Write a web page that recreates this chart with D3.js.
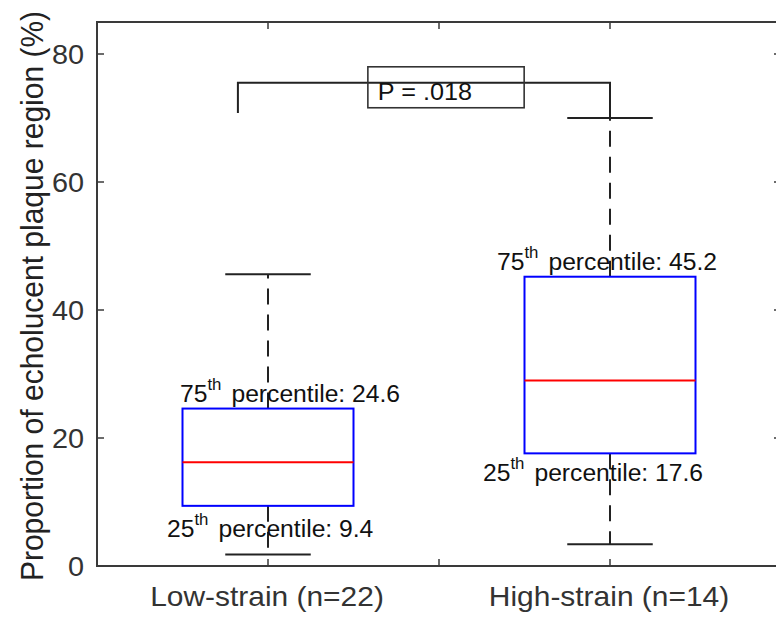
<!DOCTYPE html>
<html>
<head>
<meta charset="utf-8">
<script src="https://cdn.jsdelivr.net/npm/d3@7"></script>
<style>
  body { margin: 0; background: #fff; }
  svg { display: block; font-family: "Liberation Sans", Arial, sans-serif; }
</style>
</head>
<body>
<svg width="776" height="620"></svg>
<script>
    var width = 776, height = 620;

    // box plot values
    var categories = ["Low-strain (n=22)", "High-strain (n=14)"];
    var positions = [1, 2];
    var q1 = [9.4, 17.6];
    var q3 = [24.6, 45.2];
    var medians = [16.2, 29.0];
    var whiskerLow = [1.8, 3.4];
    var whiskerHigh = [45.6, 70.0];

    var yTicks = [0, 20, 40, 60, 80];
    var xTicks = [1, 1.5, 2];
    var pLabel = "P = .018";

    var svg = d3.select("svg");

    var x = d3.scaleLinear().domain([0.5, 2.5]).range([97, 781]);
    var y = d3.scaleLinear().domain([0, 85]).range([566, 22]);

    var stretch = 1.05;  // text in the figure is slightly wide
    var axisColor = "#3a3a3a";

    // frame
    var frame = svg.append("g");
    frame.append("path")
        .attr("d", `M${x(2.5)},${y(85)} H${x(0.5)} V${y(0)} H${x(2.5)}`)
        .attr("fill", "none")
        .attr("stroke", axisColor)
        .attr("stroke-width", 2);

    // y ticks on both sides, pointing in
    yTicks.forEach(function(t) {
        frame.append("line")
            .attr("x1", x(0.5)).attr("x2", x(0.5) + 7)
            .attr("y1", y(t)).attr("y2", y(t))
            .attr("stroke", axisColor).attr("stroke-width", 1.5);
        frame.append("line")
            .attr("x1", x(2.5)).attr("x2", x(2.5) - 7)
            .attr("y1", y(t)).attr("y2", y(t))
            .attr("stroke", axisColor).attr("stroke-width", 1.5);
        frame.append("g")
            .attr("transform", `translate(${x(0.5) - 13},${y(t) + 10}) scale(${stretch},1)`)
            .append("text")
            .attr("text-anchor", "end")
            .attr("font-size", "27.5px")
            .attr("fill", "#333")
            .text(t);
    });

    // x ticks top and bottom
    xTicks.forEach(function(t) {
        frame.append("line")
            .attr("x1", x(t)).attr("x2", x(t))
            .attr("y1", y(0)).attr("y2", y(0) - 7)
            .attr("stroke", axisColor).attr("stroke-width", 1.5);
        frame.append("line")
            .attr("x1", x(t)).attr("x2", x(t))
            .attr("y1", y(85)).attr("y2", y(85) + 7)
            .attr("stroke", axisColor).attr("stroke-width", 1.5);
    });

    categories.forEach(function(c, i) {
        frame.append("g")
            .attr("transform", `translate(${x(positions[i]) - 1},${y(0) + 40}) scale(${stretch},1)`)
            .append("text")
            .attr("text-anchor", "middle")
            .attr("font-size", "28.5px")
            .attr("fill", "#333")
            .text(c);
    });

    // y axis title
    svg.append("g")
        .attr("transform", `translate(43,296) scale(${stretch},1) rotate(-90)`)
        .append("text")
        .attr("text-anchor", "middle")
        .attr("font-size", "30px")
        .attr("fill", "#222")
        .text("Proportion of echolucent plaque region (%)");

    // boxes
    var boxW = 0.25, capW = 0.125;
    var boxes = svg.append("g");

    positions.forEach(function(p, i) {
        // dashed whiskers
        [[q3[i], whiskerHigh[i]], [q1[i], whiskerLow[i]]].forEach(function(w) {
            boxes.append("line")
                .attr("x1", x(p)).attr("x2", x(p))
                .attr("y1", y(w[0])).attr("y2", y(w[1]))
                .attr("stroke", "#222")
                .attr("stroke-width", 2)
                .attr("stroke-dasharray", "16 10");
        });
        // caps
        [whiskerHigh[i], whiskerLow[i]].forEach(function(v) {
            boxes.append("line")
                .attr("x1", x(p - capW)).attr("x2", x(p + capW))
                .attr("y1", y(v)).attr("y2", y(v))
                .attr("stroke", "#222")
                .attr("stroke-width", 2);
        });
        boxes.append("rect")
            .attr("x", x(p - boxW))
            .attr("y", y(q3[i]))
            .attr("width", x(p + boxW) - x(p - boxW))
            .attr("height", y(q1[i]) - y(q3[i]))
            .attr("fill", "none")
            .attr("stroke", "#0000ff")
            .attr("stroke-width", 2);
        boxes.append("line")
            .attr("x1", x(p - boxW)).attr("x2", x(p + boxW))
            .attr("y1", y(medians[i])).attr("y2", y(medians[i]))
            .attr("stroke", "#ff0000")
            .attr("stroke-width", 2);
    });

    // percentile labels
    function percentileLabel(px, py, ord, val) {
        var t = svg.append("g")
            .attr("transform", `translate(${px},${py}) scale(${stretch},1)`)
            .append("text")
            .attr("font-size", "23.5px")
            .attr("fill", "#111");
        t.append("tspan").text(ord);
        t.append("tspan").attr("font-size", "16px").attr("dy", -12).text("th");
        t.append("tspan").attr("dy", 12).attr("dx", 3).text(" percentile: " + val);
    }
    // low strain
    percentileLabel(x(1) - 88, y(q3[0]) - 7, "75", q3[0]);
    percentileLabel(x(1) - 101, y(q1[0]) + 31, "25", q1[0]);
    // high strain
    percentileLabel(x(2) - 113, y(q3[1]) - 7, "75", q3[1]);
    percentileLabel(x(2) - 127, y(q1[1]) + 28, "25", q1[1]);

    // significance bracket
    var bracketY = 75.5;
    svg.append("path")
        .attr("d", `M${x(0.912)},${y(70.8)} V${y(bracketY)} H${x(2)} V${y(whiskerHigh[1])}`)
        .attr("fill", "none")
        .attr("stroke", "#222")
        .attr("stroke-width", 2);

    svg.append("rect")
        .attr("x", x(1.292))
        .attr("y", y(78))
        .attr("width", x(1.749) - x(1.292))
        .attr("height", y(71.6) - y(78))
        .attr("fill", "none")
        .attr("stroke", "#333")
        .attr("stroke-width", 1.6);

    svg.append("g")
        .attr("transform", `translate(${x(1.292) + 10},${y(71.6) - 8}) scale(${stretch},1)`)
        .append("text")
        .attr("font-size", "24px")
        .attr("fill", "#111")
        .text(pLabel);
</script>
</body>
</html>
